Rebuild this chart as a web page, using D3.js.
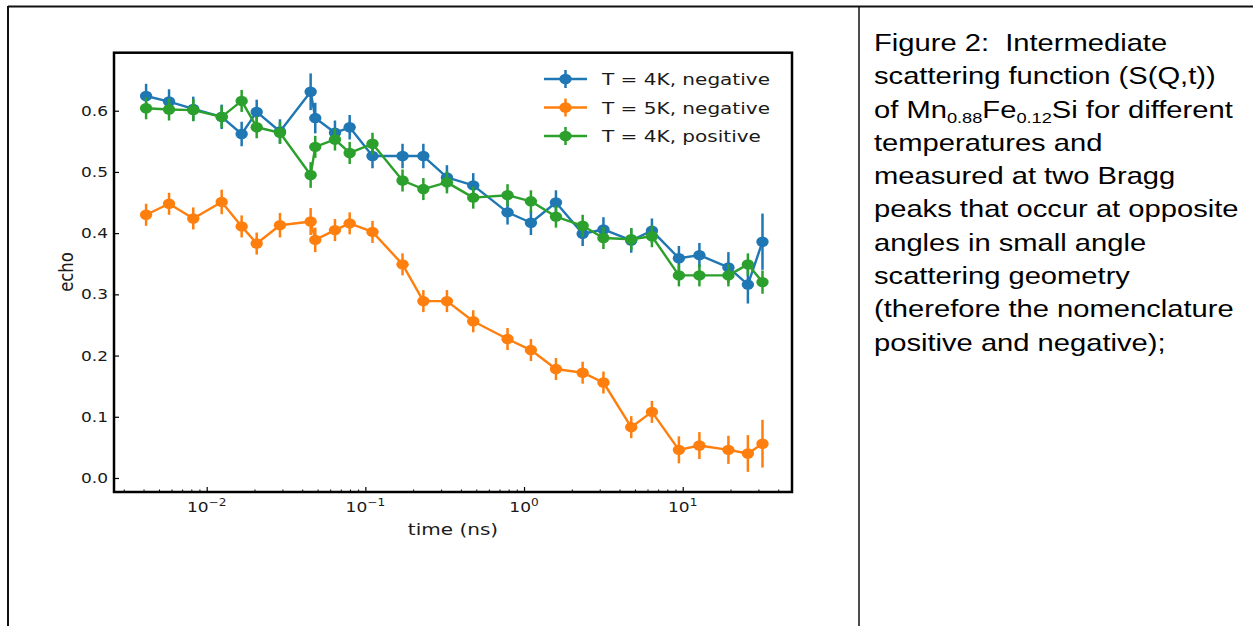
<!DOCTYPE html>
<html>
<head>
<meta charset="utf-8">
<script src="https://cdn.jsdelivr.net/npm/d3@7"></script>
<style>
body { margin: 0; background: #fff; }
</style>
</head>
<body>
<svg id="page" width="1253" height="626"></svg>
<script>
// spin echo times (ns)
const times = [0.00415, 0.00579, 0.00823, 0.01243, 0.01661, 0.02066, 0.02896, 0.0452, 0.04833, 0.06433,
  0.07963, 0.1109, 0.1715, 0.232, 0.3267, 0.4785, 0.787, 1.105, 1.589, 2.341,
  3.165, 4.737, 6.397, 9.463, 12.74, 19.41, 25.75, 31.83];

const echo4Kneg = [0.624, 0.615, 0.603, 0.590, 0.562, 0.598, 0.566, 0.631, 0.588, 0.564,
  0.573, 0.526, 0.526, 0.526, 0.491, 0.478, 0.434, 0.417, 0.450, 0.399,
  0.406, 0.388, 0.404, 0.359, 0.364, 0.344, 0.316, 0.386];
const err4Kneg = [0.02, 0.02, 0.02, 0.02, 0.02, 0.02, 0.02, 0.03, 0.025, 0.02,
  0.02, 0.02, 0.02, 0.02, 0.02, 0.02, 0.02, 0.02, 0.02, 0.02,
  0.02, 0.02, 0.02, 0.02, 0.02, 0.025, 0.031, 0.046];

const echo5Kneg = [0.430, 0.448, 0.424, 0.451, 0.411, 0.383, 0.413, 0.419, 0.389, 0.405,
  0.416, 0.402, 0.349, 0.289, 0.289, 0.256, 0.227, 0.209, 0.178, 0.172,
  0.156, 0.083, 0.108, 0.046, 0.053, 0.046, 0.040, 0.056];
const err5Kneg = [0.018, 0.018, 0.018, 0.02, 0.018, 0.018, 0.02, 0.022, 0.02, 0.018,
  0.018, 0.018, 0.018, 0.018, 0.018, 0.018, 0.018, 0.018, 0.018, 0.018,
  0.018, 0.018, 0.018, 0.022, 0.022, 0.023, 0.03, 0.039];

const echo4Kpos = [0.604, 0.602, 0.601, 0.590, 0.616, 0.573, 0.564, 0.495, 0.541, 0.553,
  0.531, 0.546, 0.486, 0.472, 0.483, 0.458, 0.462, 0.452, 0.427, 0.412,
  0.392, 0.390, 0.395, 0.331, 0.331, 0.331, 0.349, 0.320];
const err4Kpos = [0.018, 0.018, 0.018, 0.018, 0.018, 0.018, 0.018, 0.021, 0.018, 0.018,
  0.018, 0.018, 0.018, 0.018, 0.018, 0.018, 0.018, 0.018, 0.018, 0.018,
  0.018, 0.018, 0.018, 0.018, 0.018, 0.018, 0.018, 0.019];

const seriesNames = ["T = 4K, negative", "T = 5K, negative", "T = 4K, positive"];
const seriesColors = ["#1f77b4", "#ff7f0e", "#2ca02c"];

const yTicks = [0, 0.1, 0.2, 0.3, 0.4, 0.5, 0.6];
const xTicks = [0.01, 0.1, 1, 10];
const xTickExp = ["\u22122", "\u22121", "0", "1"];

const caption = [
  [["Figure 2:  Intermediate"]],
  [["scattering function (S(Q,t))"]],
  [["of Mn"], ["0.88", "sub"], ["Fe"], ["0.12", "sub"], ["Si for different"]],
  [["temperatures and"]],
  [["measured at two Bragg"]],
  [["peaks that occur at opposite"]],
  [["angles in small angle"]],
  [["scattering geometry"]],
  [["(therefore the nomenclature"]],
  [["positive and negative);"]]
];

// the screenshot is stretched sideways
const SX = 1.215;
const FONT = "'DejaVu Sans', sans-serif";

const svg = d3.select("#page");

// table borders
svg.append("line").attr("x1", 8).attr("x2", 1253).attr("y1", 6.5).attr("y2", 6.5)
  .attr("stroke", "#111").attr("stroke-width", 2);
svg.append("line").attr("x1", 8).attr("x2", 8).attr("y1", 6).attr("y2", 626)
  .attr("stroke", "#111").attr("stroke-width", 2);
svg.append("line").attr("x1", 859).attr("x2", 859).attr("y1", 6).attr("y2", 626)
  .attr("stroke", "#111").attr("stroke-width", 1.5);

// caption text
const cap = svg.append("g").attr("transform", "translate(874,0) scale(" + SX + ",1)");
caption.forEach(function (line, i) {
  const t = cap.append("text")
    .attr("x", 0).attr("y", 51 + i * 33.3)
    .style("font-family", "'Liberation Sans', Arial, sans-serif")
    .style("font-size", "24px")
    .style("white-space", "pre")
    .attr("fill", "#000");
  line.forEach(function (part) {
    const sp = t.append("tspan").text(part[0]);
    if (part[1] === "sub") {
      sp.style("font-size", "15px").attr("dy", 5);
    } else if (t.selectAll("tspan").size() > 1) {
      sp.attr("dy", -5);
    }
  });
});

// chart
const margin = { left: 114, right: 792, top: 52.7, bottom: 492 };

const x = d3.scaleLog()
  .domain([0.002605, 48.84])
  .range([margin.left, margin.right]);
const y = d3.scaleLinear()
  .domain([-0.0229, 0.6948])
  .range([margin.bottom, margin.top]);

// minor ticks
let minor = [];
for (let e = -3; e <= 1; e++) {
  for (let m = 2; m <= 9; m++) {
    const v = m * Math.pow(10, e);
    if (v > x.domain()[0] && v < x.domain()[1]) minor.push(v);
  }
}

svg.append("g")
  .attr("transform", "translate(0," + margin.bottom + ")")
  .call(d3.axisBottom(x).tickValues(minor).tickSizeInner(-2.5).tickSizeOuter(0).tickFormat(""))
  .call(g => g.select(".domain").remove())
  .selectAll("line").attr("stroke", "#000").attr("stroke-width", 1);

const xAx = svg.append("g")
  .attr("transform", "translate(0," + margin.bottom + ")")
  .call(d3.axisBottom(x).tickValues(xTicks).tickSizeInner(-5).tickSizeOuter(0).tickFormat(""));
xAx.select(".domain").remove();
xAx.selectAll("line").attr("stroke", "#000").attr("stroke-width", 1.2);

xTicks.forEach(function (v, i) {
  const g = svg.append("g").attr("transform", "translate(" + x(v) + "," + (margin.bottom + 20) + ") scale(" + SX + ",1)");
  const t = g.append("text").attr("text-anchor", "middle")
    .style("font-family", FONT).style("font-size", "14px").attr("fill", "#1a1a1a");
  t.append("tspan").text("10");
  t.append("tspan").text(xTickExp[i]).style("font-size", "10px").attr("dy", -6);
});

const yAx = svg.append("g")
  .attr("transform", "translate(" + margin.left + ",0)")
  .call(d3.axisLeft(y).tickValues(yTicks).tickSizeInner(-5).tickSizeOuter(0).tickFormat(d3.format(".1f")));
yAx.select(".domain").remove();
yAx.selectAll("line").attr("stroke", "#000").attr("stroke-width", 1.2);
yAx.selectAll("text")
  .attr("x", -6 / SX)
  .attr("transform", "scale(" + SX + ",1)")
  .attr("fill", "#1a1a1a")
  .style("font-family", FONT).style("font-size", "14px");

// axis labels
svg.append("g").attr("transform", "translate(453,535) scale(" + SX + ",1)")
  .append("text").attr("text-anchor", "middle")
  .style("font-family", FONT).style("font-size", "16.5px").attr("fill", "#1a1a1a")
  .text("time (ns)");
svg.append("g").attr("transform", "translate(73,272) scale(" + SX + ",1) rotate(-90)")
  .append("text").attr("text-anchor", "middle")
  .style("font-family", FONT).style("font-size", "16.5px").attr("fill", "#1a1a1a")
  .text("echo");

// series
const allSeries = [
  { vals: echo4Kneg, errs: err4Kneg },
  { vals: echo5Kneg, errs: err5Kneg },
  { vals: echo4Kpos, errs: err4Kpos }
];

const line = d3.line()
  .x(d => x(d.t))
  .y(d => y(d.v));

allSeries.forEach(function (s, k) {
  const pts = times.map((t, i) => ({ t: t, v: s.vals[i], e: s.errs[i] }));
  const g = svg.append("g");
  g.selectAll("line.err").data(pts).enter().append("line")
    .attr("x1", d => x(d.t)).attr("x2", d => x(d.t))
    .attr("y1", d => y(d.v - d.e)).attr("y2", d => y(d.v + d.e))
    .attr("stroke", seriesColors[k]).attr("stroke-width", 2.5);
  g.append("path").datum(pts)
    .attr("d", line)
    .attr("fill", "none")
    .attr("stroke", seriesColors[k])
    .attr("stroke-width", 2.4)
    .attr("stroke-linejoin", "round");
  g.selectAll("ellipse").data(pts).enter().append("ellipse")
    .attr("cx", d => x(d.t)).attr("cy", d => y(d.v))
    .attr("rx", 6.2).attr("ry", 5.2)
    .attr("fill", seriesColors[k]);
});

// legend
seriesNames.forEach(function (name, k) {
  const ly = 79 + k * 28.5;
  const g = svg.append("g");
  g.append("line").attr("x1", 544).attr("x2", 587).attr("y1", ly).attr("y2", ly)
    .attr("stroke", seriesColors[k]).attr("stroke-width", 2.4);
  g.append("line").attr("x1", 565.5).attr("x2", 565.5).attr("y1", ly - 9).attr("y2", ly + 9)
    .attr("stroke", seriesColors[k]).attr("stroke-width", 2.5);
  g.append("ellipse").attr("cx", 565.5).attr("cy", ly).attr("rx", 6.2).attr("ry", 5.2)
    .attr("fill", seriesColors[k]);
  g.append("g").attr("transform", "translate(602," + (ly + 6) + ") scale(" + SX + ",1)")
    .append("text")
    .style("font-family", FONT).style("font-size", "16.5px").attr("fill", "#1a1a1a")
    .text(name);
});

// frame
svg.append("rect")
  .attr("x", margin.left).attr("y", margin.top)
  .attr("width", margin.right - margin.left).attr("height", margin.bottom - margin.top)
  .attr("fill", "none").attr("stroke", "#000").attr("stroke-width", 2.5);
</script>
</body>
</html>
